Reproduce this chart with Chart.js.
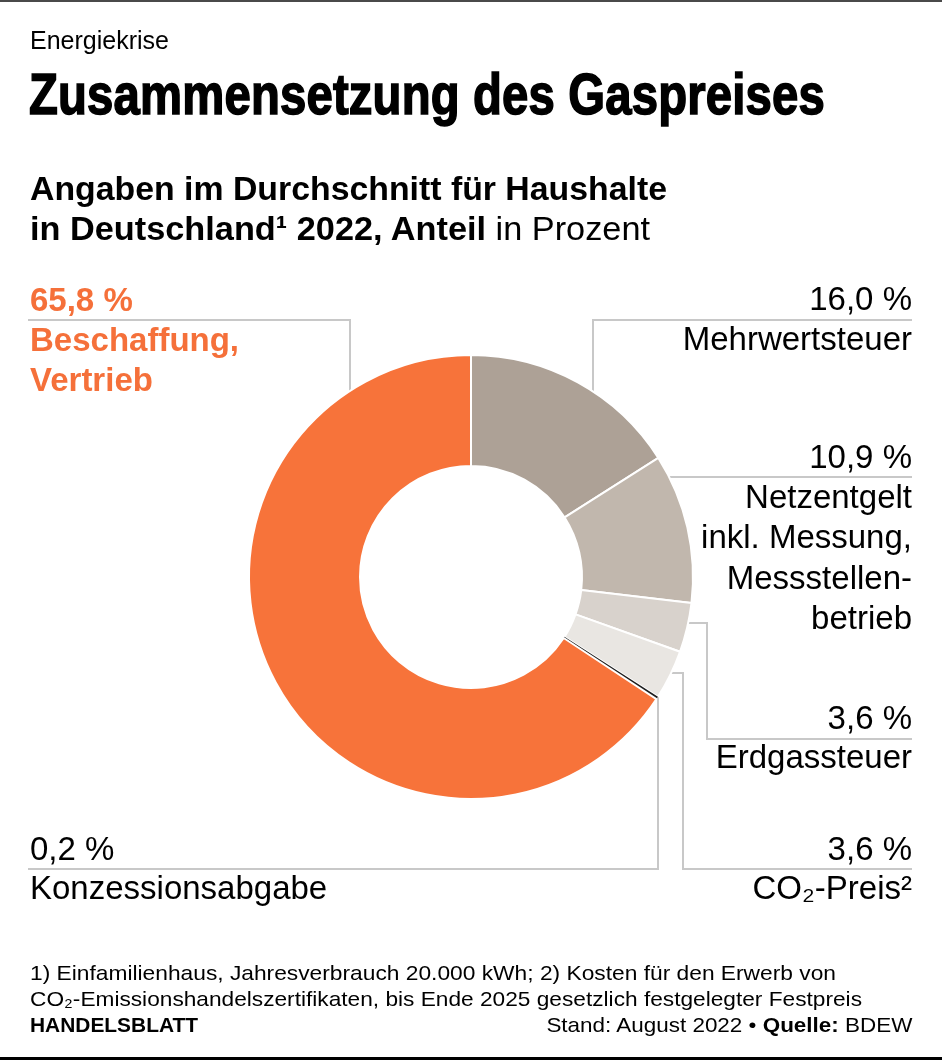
<!DOCTYPE html>
<html lang="de">
<head>
<meta charset="utf-8">
<title>Zusammensetzung des Gaspreises</title>
<script src="https://cdn.jsdelivr.net/npm/chart.js@4.4.1/dist/chart.umd.min.js"></script>
<style>
  html, body {
    margin: 0;
    padding: 0;
    background: #fff;
  }
  #page {
    position: relative;
    width: 942px;
    height: 1060px;
    overflow: hidden;
    background: #fff;
    border-top: 2px solid #4a4a4a;
    box-sizing: border-box;
    font-family: 'Liberation Sans', Arial, sans-serif;
    color: #000;
  }
  #page::after {
    content: '';
    position: absolute;
    left: 0;
    right: 0;
    bottom: 0;
    height: 3px;
    background: #000;
  }
  #chart {
    position: absolute;
    left: 0;
    top: -2px;
  }
  .t {
    position: absolute;
    white-space: nowrap;
  }
  .kicker {
    left: 30px;
    font-size: 25px;
    line-height: 30px;
  }
  .title {
    left: 29px;
    font-family: 'Liberation Sans Narrow', 'Liberation Sans', sans-serif;
    font-weight: 700;
    font-size: 58px;
    line-height: 58px;
    -webkit-text-stroke: 1.6px #000;
    letter-spacing: 0.2px;
  }
  .sub {
    left: 30px;
    font-size: 33px;
    line-height: 40px;
  }
  .sub b {
    font-weight: 700;
  }
  .lab {
    font-size: 33px;
    line-height: 40px;
  }
  .lab.left {
    left: 30px;
  }
  .lab.right {
    right: 30px;
    text-align: right;
  }
  .lab.accent {
    color: #f5703a;
    font-weight: 700;
  }
  .foot {
    font-size: 21px;
    line-height: 26px;
  }
</style>
</head>
<body>
<div id="page">
  <canvas id="chart" width="942" height="1060"></canvas>
</div>
<script>
// Werte in Prozent, im Uhrzeigersinn ab 12 Uhr
const categories = [
  'Mehrwertsteuer',
  'Netzentgelt inkl. Messung, Messstellenbetrieb',
  'Erdgassteuer',
  'CO₂-Preis²',
  'Konzessionsabgabe',
  'Beschaffung, Vertrieb'
];
const shares = [16.0, 10.9, 3.6, 3.6, 0.2, 65.8];
const labelLines = [
  ['Mehrwertsteuer'],
  ['Netzentgelt', 'inkl. Messung,', 'Messstellen-', 'betrieb'],
  ['Erdgassteuer'],
  ['CO₂-Preis²'],
  ['Konzessionsabgabe'],
  ['Beschaffung,', 'Vertrieb']
];
const sliceColors = ['#ada196', '#c1b7ad', '#d8d2cc', '#e9e6e2', '#1e1e1e', '#f7733a'];

// Lage der Beschriftungen (Mitte der Versalhöhe)
const labelLayout = [
  { side: 'right', valueY: 299, lineY: 339 },
  { side: 'right', valueY: 457, lineY: 497 },
  { side: 'right', valueY: 718, lineY: 757 },
  { side: 'right', valueY: 849, lineY: 888 },
  { side: 'left', valueY: 849, lineY: 888 },
  { side: 'left', valueY: 300, lineY: 340, accent: true }
];

const page = document.getElementById('page');

function addText(cls, html, centerY, lineHeight) {
  const el = document.createElement('div');
  el.className = 't ' + cls;
  el.innerHTML = html;
  el.style.top = (centerY - lineHeight / 2 - 2) + 'px';
  page.appendChild(el);
  return el;
}

function fitWidth(el, width, origin) {
  const w = el.getBoundingClientRect().width;
  el.style.transformOrigin = origin + ' center';
  el.style.transform = 'scaleX(' + (width / w) + ')';
}

function fmt(v) {
  return v.toLocaleString('de-DE', { minimumFractionDigits: 1, maximumFractionDigits: 1 }) + ' %';
}

// Kopf
addText('kicker', 'Energiekrise', 40, 30);
const title = addText('title', 'Zusammensetzung des Gaspreises', 94, 58);
fitWidth(title, 796, 'left');
const sub1 = addText('sub', '<b>Angaben im Durchschnitt für Haushalte</b>', 189, 40);
const sub2 = addText('sub', '<b>in Deutschland¹ 2022, Anteil</b> in Prozent', 229, 40);
fitWidth(sub1, 637, 'left');
fitWidth(sub2, 620, 'left');

// Beschriftungen der Segmente
shares.forEach(function(v, i) {
  const lay = labelLayout[i];
  const cls = 'lab ' + lay.side + (lay.accent ? ' accent' : '');
  addText(cls, fmt(v), lay.valueY, 40);
  labelLines[i].forEach(function(line, j) {
    addText(cls, line, lay.lineY + j * 40.3, 40);
  });
});

// Fuß
const f1 = addText('foot', '1) Einfamilienhaus, Jahresverbrauch 20.000 kWh; 2) Kosten für den Erwerb von', 973, 26);
f1.style.left = '30px';
fitWidth(f1, 806, 'left');
const f2 = addText('foot', 'CO₂-Emissionshandelszertifikaten, bis Ende 2025 gesetzlich festgelegter Festpreis', 999, 26);
f2.style.left = '30px';
fitWidth(f2, 832, 'left');
const f3 = addText('foot', '<b>HANDELSBLATT</b>', 1025, 26);
f3.style.left = '30px';
fitWidth(f3, 168, 'left');
const f4 = addText('foot', 'Stand: August 2022 • <b>Quelle:</b> BDEW', 1025, 26);
f4.style.right = '30px';
fitWidth(f4, 366, 'right');

// Hinweislinien, die am Ring enden
const leaderPlugin = {
  id: 'leaders',
  beforeDatasetsDraw: function(chart) {
    const arc = chart.getDatasetMeta(0).data[0];
    const cx = arc.x, cy = arc.y, r = arc.outerRadius;
    const ringTop = function(x) { return cy - Math.sqrt(r * r - (x - cx) * (x - cx)); };
    const ringBottom = function(x) { return cy + Math.sqrt(r * r - (x - cx) * (x - cx)); };
    const ringRight = function(y) { return cx + Math.sqrt(r * r - (y - cy) * (y - cy)); };

    const routes = [
      [[912, 320], [593, 320], [593, ringTop(593) + 6]],
      [[912, 477], [ringRight(477) - 6, 477]],
      [[ringRight(623) - 6, 623], [707, 623], [707, 739], [912, 739]],
      [[ringRight(673) - 6, 673], [683, 673], [683, 869], [912, 869]],
      [[658, ringBottom(658) - 6], [658, 869], [28, 869]],
      [[28, 320], [350, 320], [350, ringTop(350) + 6]]
    ];

    const c = chart.ctx;
    c.save();
    c.strokeStyle = '#c8c8c8';
    c.lineWidth = 2;
    routes.forEach(function(pts) {
      c.beginPath();
      c.moveTo(pts[0][0], pts[0][1]);
      for (let k = 1; k < pts.length; k++) {
        c.lineTo(pts[k][0], pts[k][1]);
      }
      c.stroke();
    });
    c.restore();
  }
};

new Chart(document.getElementById('chart'), {
  type: 'doughnut',
  data: {
    labels: categories,
    datasets: [{
      data: shares,
      backgroundColor: sliceColors,
      borderColor: '#fff',
      borderWidth: [2, 2, 2, 2, 0, 2],
      hoverOffset: 0
    }]
  },
  options: {
    responsive: false,
    animation: false,
    events: [],
    radius: 222,
    cutout: '50%',
    layout: {
      padding: { top: 355, bottom: 261, left: 0, right: 0 }
    },
    plugins: {
      legend: { display: false },
      tooltip: { enabled: false }
    }
  },
  plugins: [leaderPlugin]
});
</script>
</body>
</html>
